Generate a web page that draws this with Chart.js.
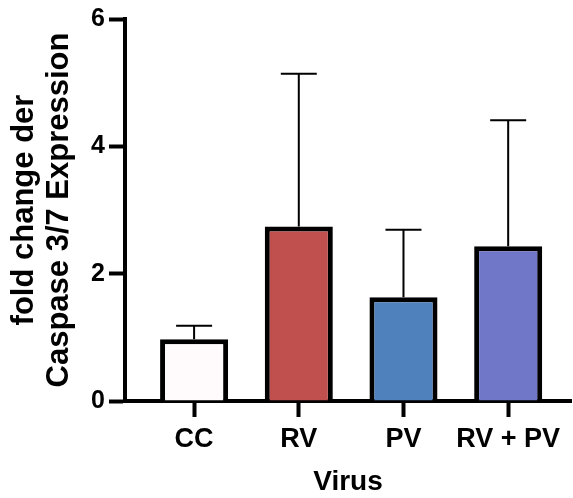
<!DOCTYPE html>
<html>
<head>
<meta charset="utf-8">
<script src="https://cdn.jsdelivr.net/npm/chart.js@4.4.1/dist/chart.umd.min.js"></script>
<style>
  html, body { margin: 0; padding: 0; background: #fff; }
  #wrap { width: 573px; height: 498px; position: relative; }
</style>
</head>
<body>
<div id="wrap"><canvas id="myChart"></canvas></div>
<script>
'use strict';

// mean fold change per group and its upper SD
var groups = ['CC', 'RV', 'PV', 'RV + PV'];
var means = [0.97, 2.74, 1.63, 2.43];
var sds = [0.21, 2.40, 1.06, 1.98];
var fills = ['#fffafc', '#c0504d', '#4f81bd', '#7077c8'];
var yTicks = [0, 2, 4, 6];

var font = 'Liberation Sans, Arial, Helvetica, sans-serif';

// upper-only error bars with a cap
var errorBars = {
  id: 'errorBars',
  afterDatasetsDraw: function (chart) {
    var ctx = chart.ctx;
    var meta = chart.getDatasetMeta(0);
    var yScale = chart.scales.y;
    ctx.save();
    ctx.strokeStyle = '#000';
    ctx.lineWidth = 2;
    meta.data.forEach(function (bar, i) {
      var top = yScale.getPixelForValue(means[i] + sds[i]);
      ctx.beginPath();
      ctx.moveTo(bar.x, bar.y);
      ctx.lineTo(bar.x, top);
      ctx.moveTo(bar.x - 18, top);
      ctx.lineTo(bar.x + 18, top);
      ctx.stroke();
    });
    ctx.restore();
  }
};

var points = groups.map(function (g, i) {
  return { x: i, y: means[i] };
});

new Chart(document.getElementById('myChart'), {
  type: 'bar',
  data: {
    datasets: [{
      data: points,
      backgroundColor: fills,
      borderColor: '#000',
      borderWidth: 5,
      borderSkipped: 'start',
      barPercentage: 0.65,
      categoryPercentage: 1
    }]
  },
  options: {
    responsive: true,
    maintainAspectRatio: false,
    animation: false,
    layout: { padding: { top: 17, right: 2, left: 0, bottom: 0 } },
    plugins: {
      legend: { display: false },
      tooltip: { enabled: false }
    },
    scales: {
      x: {
        type: 'linear',
        min: -0.66,
        max: 3.6,
        offset: false,
        afterBuildTicks: function (scale) {
          scale.ticks = groups.map(function (g, i) { return { value: i }; });
        },
        afterFit: function (scale) { scale.height = 97; },
        grid: {
          offset: false,
          drawOnChartArea: false,
          tickLength: 16,
          tickWidth: 4,
          tickColor: '#000'
        },
        border: { display: true, color: '#000', width: 4 },
        ticks: {
          color: '#000',
          padding: 6,
          maxRotation: 0,
          autoSkip: false,
          font: { family: font, size: 27, weight: 'bold' },
          callback: function (value) { return groups[value]; }
        },
        title: {
          display: true,
          text: 'Virus',
          color: '#000',
          padding: { top: 0, bottom: 0 },
          font: { family: font, size: 28, weight: 'bold', lineHeight: 1.1 }
        }
      },
      y: {
        min: yTicks[0],
        max: yTicks[yTicks.length - 1],
        afterBuildTicks: function (scale) {
          scale.ticks = yTicks.map(function (v) { return { value: v }; });
        },
        afterFit: function (scale) { scale.width = 125; },
        grid: {
          drawOnChartArea: false,
          tickLength: 16,
          tickWidth: 4,
          tickColor: '#000'
        },
        border: { display: true, color: '#000', width: 4 },
        ticks: {
          color: '#000',
          padding: 4,
          font: { family: font, size: 25, weight: 'bold' }
        },
        title: {
          display: true,
          text: ['fold change der', 'Caspase 3/7 Expression'],
          color: '#000',
          padding: { top: 6, bottom: 0 },
          font: { family: font, size: 31, weight: 'bold', lineHeight: 1.16 }
        }
      }
    }
  },
  plugins: [errorBars]
});
</script>
</body>
</html>
